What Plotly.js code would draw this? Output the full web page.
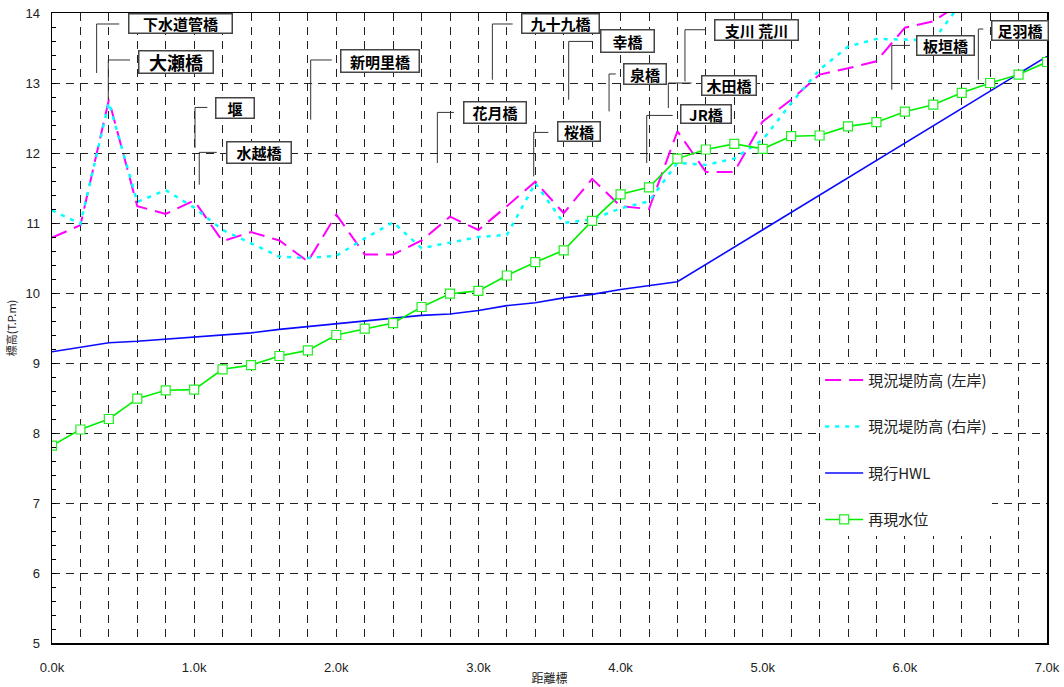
<!DOCTYPE html>
<html>
<head>
<meta charset="utf-8">
<script src="https://cdn.plot.ly/plotly-3.0.1.min.js"></script>
<style>html,body{margin:0;padding:0;background:#fff;}#chart{width:1064px;height:687px;}</style>
</head>
<body>
<div id="chart"></div>
<script>
// ---- data (distance in km, elevation in T.P.m) ----
const distance = [0.0,0.2,0.4,0.6,0.8,1.0,1.2,1.4,1.6,1.8,2.0,2.2,2.4,2.6,2.8,3.0,3.2,3.4,3.6,3.8,4.0,4.2,4.4,4.6,4.8,5.0,5.2,5.4,5.6,5.8,6.0,6.2,6.4,6.6,6.8,7.0];
const bankDistance = [0.0,0.2,0.4,0.6,0.8,1.0,1.2,1.4,1.6,1.8,2.0,2.2,2.4,2.6,2.8,3.0,3.2,3.4,3.6,3.8,4.0,4.2,4.4,4.6,4.8,5.0,5.2,5.4,5.6,5.8,6.0,6.2,6.4];
const leftBank = [10.79,10.97,12.76,11.24,11.13,11.32,10.74,10.87,10.75,10.45,11.12,10.55,10.55,10.75,11.09,10.90,11.24,11.59,11.14,11.63,11.24,11.20,12.31,11.73,11.73,12.45,12.76,13.12,13.21,13.31,13.79,13.88,14.15];
const rightBank = [11.18,10.99,12.72,11.30,11.47,11.22,10.90,10.71,10.52,10.50,10.53,10.78,11.01,10.64,10.72,10.80,10.83,11.57,11.00,11.05,11.21,11.31,11.86,11.83,11.92,12.19,12.71,13.19,13.52,13.63,13.62,13.61,14.15];
const hwlDistance = [0.0,0.2,0.4,0.6,0.8,1.0,1.2,1.4,1.6,1.8,2.0,2.2,2.4,2.6,2.8,3.0,3.2,3.4,3.6,3.8,4.0,4.2,4.4,7.0];
const hwl = [9.16,9.22,9.29,9.31,9.34,9.37,9.40,9.43,9.48,9.52,9.56,9.60,9.64,9.68,9.70,9.75,9.82,9.86,9.93,9.98,10.05,10.11,10.16,13.38];
const reproduced = [7.82,8.05,8.20,8.49,8.61,8.62,8.91,8.97,9.10,9.18,9.40,9.49,9.57,9.80,9.99,10.03,10.25,10.44,10.61,11.03,11.41,11.51,11.92,12.05,12.13,12.06,12.24,12.25,12.38,12.44,12.59,12.69,12.86,13.00,13.12,13.30];
const seriesNames = ['現況堤防高 (左岸)','現況堤防高 (右岸)','現行HWL','再現水位'];
const bridgeNames = ['下水道管橋','大瀬橋','堰','水越橋','新明里橋','花月橋','九十九橋','幸橋','泉橋','桜橋','JR橋','木田橋','支川 荒川','板垣橋','足羽橋'];

// ---- label placement (data coords) ----
const labelCfg = [
  {cx:0.904,cy:13.854,w:106,h:22,fs:15, lead:[[0.473,13.843],[0.314,13.843],[0.314,13.143]]},
  {cx:0.872,cy:13.307,w:77,h:25,fs:18, lead:[[0.549,13.329],[0.396,13.329],[0.396,12.761]]},
  {cx:1.287,cy:12.643,w:41,h:23,fs:15, lead:[[1.093,12.651],[1.006,12.651],[1.006,12.071]]},
  {cx:1.456,cy:12.001,w:67,h:24,fs:15, lead:[[1.159,12.009],[1.036,12.009],[1.036,11.547]]},
  {cx:2.305,cy:13.309,w:81,h:25,fs:15, lead:[[1.968,13.329],[1.820,13.329],[1.820,12.476]]},
  {cx:3.115,cy:12.573,w:65,h:24,fs:15, lead:[[2.828,12.580],[2.711,12.580],[2.711,11.857]]},
  {cx:3.579,cy:13.854,w:80,h:22,fs:15, lead:[[3.241,13.843],[3.098,13.843],[3.098,13.047]]},
  {cx:4.047,cy:13.593,w:56,h:25,fs:15, lead:[[3.804,13.594],[3.635,13.594],[3.635,12.761]]},
  {cx:4.173,cy:13.129,w:45,h:23,fs:15, lead:[[3.966,13.129],[3.919,13.129],[3.919,12.594]]},
  {cx:3.709,cy:12.301,w:45,h:22,fs:15, lead:[[3.492,12.294],[3.389,12.294],[3.389,11.666]]},
  {cx:4.601,cy:12.554,w:53,h:21,fs:15, lead:[[4.367,12.537],[4.184,12.537],[4.184,11.857]]},
  {cx:4.761,cy:12.959,w:57,h:22,fs:15, lead:[[4.500,13.000],[4.336,13.000],[4.336,12.643]]},
  {cx:4.954,cy:13.761,w:86,h:23,fs:15, lead:[[4.594,13.761],[4.453,13.761],[4.453,13.023]]},
  {cx:6.288,cy:13.540,w:60,h:22,fs:15, lead:[[6.036,13.537],[5.908,13.537],[5.908,12.904]]},
  {cx:6.812,cy:13.754,w:59,h:22,fs:15, lead:[[6.552,13.771],[6.517,13.771],[6.517,13.047]]}
];

const cjk = '"Noto Sans CJK JP", "Liberation Sans", sans-serif';
const latin = '"Liberation Sans", Arial, sans-serif';

const traces = [
  {x:bankDistance, y:leftBank, name:seriesNames[0], mode:'lines', legendgroup:'a',
   line:{color:'#ff00ff', width:2, dash:'16px,8px'}},
  {x:bankDistance, y:rightBank, name:seriesNames[1], mode:'lines', legendgroup:'b',
   line:{color:'#00ffff', width:2.5, dash:'4px,6px'}},
  {x:hwlDistance, y:hwl, name:seriesNames[2], mode:'lines', legendgroup:'c',
   line:{color:'#0a0aff', width:1.6}},
  {x:distance, y:reproduced, name:seriesNames[3], mode:'lines+markers', legendgroup:'d',
   line:{color:'#00f000', width:1.6},
   marker:{symbol:'square', size:9, color:'#ffffff', line:{color:'#22ee22', width:1.2}}}
];

const annotations = labelCfg.map((c,i)=>({
  x:c.cx, y:c.cy, xref:'x', yref:'y', text:'<b>'+bridgeNames[i]+'</b>', showarrow:false,
  xanchor:'center', yanchor:'middle', width:c.w-4, height:c.h-4,
  bgcolor:'#ffffff', bordercolor:'#444', borderwidth:1.5, borderpad:0,
  font:{family:cjk, size:c.fs, color:'#000'}
}));

const shapes = labelCfg.map(c=>({
  type:'path', xref:'x', yref:'y',
  path:'M '+c.lead.map(p=>p[0]+','+p[1]).join(' L '),
  line:{color:'#333', width:1}
}));

const gridStyle = {gridcolor:'#222', griddash:'8px,6px', gridwidth:1};

const layout = {
  width:1064, height:687,
  margin:{l:52, r:17, t:13, b:44},
  paper_bgcolor:'#fff', plot_bgcolor:'#fff',
  showlegend:true,
  legend:{x:0.772, y:0.4433, xanchor:'left', yanchor:'top', bgcolor:'#ffffff',
          itemwidth:38,
          font:{family:cjk, size:15, color:'#222'}, tracegroupgap:24, traceorder:'grouped'},
  xaxis:Object.assign({
    range:[0,7], dtick:1, tick0:0, tickformat:'.1f', ticksuffix:'k',
    showgrid:true, zeroline:false, showline:true, linecolor:'#000', linewidth:1.5, mirror:true,
    ticks:'', ticklabelstandoff:12,
    tickfont:{family:latin, size:13, color:'#222'},
    minor:{dtick:0.2, showgrid:true, gridcolor:'#222', griddash:'8px,6px', gridwidth:1, ticks:''},
    title:{text:'距離標', font:{family:cjk, size:12, color:'#222'}, standoff:0}
  }, gridStyle),
  yaxis:Object.assign({
    range:[5,14], dtick:1, tick0:5,
    showgrid:true, zeroline:false, showline:true, linecolor:'#000', linewidth:1.5, mirror:true,
    ticks:'inside', ticklen:4, tickcolor:'#000', ticklabelstandoff:8,
    tickfont:{family:latin, size:13, color:'#222'},
    minor:{dtick:0.2, ticks:'inside', ticklen:4, tickcolor:'#000', showgrid:false},
    title:{text:'標高(T.P.m)', font:{family:cjk, size:11, color:'#222'}, standoff:6}
  }, gridStyle),
  annotations:annotations,
  shapes:shapes
};

Plotly.newPlot('chart', traces, layout, {displayModeBar:false, staticPlot:true});
</script>
</body>
</html>
